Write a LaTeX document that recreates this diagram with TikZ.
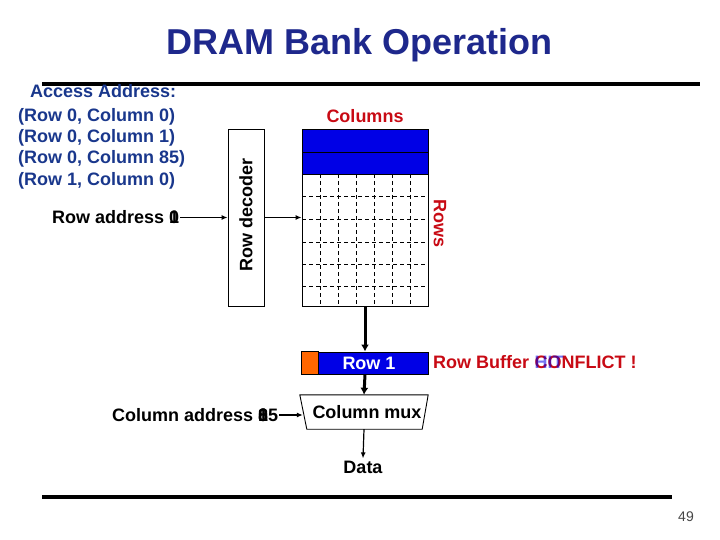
\documentclass[tikz,border=0pt]{standalone}
\usepackage{fontspec}
\setmainfont{Liberation Sans}
\usetikzlibrary{arrows.meta}
\definecolor{titleblue}{RGB}{30,40,140}
\definecolor{addrblue}{RGB}{25,55,140}
\definecolor{dred}{RGB}{200,10,20}
\definecolor{cellblue}{RGB}{0,0,230}
\definecolor{bufor}{RGB}{255,102,0}
\definecolor{pgnum}{RGB}{70,70,70}
\begin{document}
\begin{tikzpicture}[x=1pt,y=-1pt,
  txt/.style={font=\fontsize{18}{21}\selectfont\bfseries, inner sep=0},
  addr/.style={txt, text=addrblue, anchor=base west},
  arr/.style={-{Latex[length=6pt,width=5pt]}, line width=1.2pt},
  fatarr/.style={-{Latex[length=7pt,width=8pt]}, line width=3pt},
  box/.style={draw, line width=0.9pt, inner sep=0},
  gridline/.style={dash pattern=on 4pt off 3pt, line width=0.8pt},
  rulebar/.style={line width=4.5pt}]
\useasboundingbox (0,0) rectangle (720,540);

% title and rules
\node[font=\fontsize{36}{40}\selectfont\bfseries, text=titleblue, inner sep=0, anchor=base] (title) at (360,55) {DRAM Bank Operation};
\draw[rulebar] (42,84) -- (700,84);
\draw[rulebar] (42,497) -- (672,497);
\node[font=\fontsize{14}{16}\selectfont, text=pgnum, inner sep=0, anchor=base] (pg) at (686,521) {49};

% access address list
\node[addr] (a0) at (30,98) {Access Address:};
\node[addr] (a1) at (18,121.5) {(Row 0, Column 0)};
\node[addr] (a2) at (18,143) {(Row 0, Column 1)};
\node[addr] (a3) at (18,164) {(Row 0, Column 85)};
\node[addr] (a4) at (18,186) {(Row 1, Column 0)};

% row decoder
\node[box, minimum width=36pt, minimum height=177pt] (dec) at (246,217.5) {};
\node[txt, rotate=90] (declabel) at (246,215) {Row decoder};

% array
\draw[line width=0.9pt, fill=cellblue] (302,129) rectangle (428,152);
\draw[line width=0.9pt, fill=cellblue] (302,152) rectangle (428,174);
\foreach \x in {320,338,356,374,392,410} \draw[gridline] (\x,174) -- (\x,306);
\foreach \y in {196.5,219.5,242,264.5,286.5} \draw[gridline] (302,\y) -- (428,\y);
\node[box, minimum width=126pt, minimum height=177pt] (grid) at (365,217.5) {};
\node[txt, text=dred, anchor=base] (cols) at (365,123) {Columns};
\node[txt, text=dred, rotate=-90] (rows) at (440,224) {Rows};

% row address
\node[txt, anchor=base west] (rowaddr) at (52,223) {Row address \rlap{1}0};
\draw[arr] ([xshift=1pt]rowaddr.east |- dec.west) -- (dec.west);
\draw[arr] (dec.east) -- (grid.west |- dec.east);

% row buffer
\node[box, fill=cellblue, minimum width=126pt, minimum height=22pt] (buf) at (365,363) {};
\draw[line width=0.9pt, fill=bufor] (buf.north west) rectangle ([xshift=17pt]buf.south west);
\node[txt, text=white, anchor=base] (buflabel) at (369,369.5) {Row 1};
\draw[fatarr] (grid.south) -- (buf.north);

\node[txt, text=dred, anchor=base west] (rb) at (433,368) {Row Buffer};
\node[txt, text=dred, anchor=base west] (conf) at ([xshift=5pt]rb.base east) {CONFLICT !};
\node[txt, text=cellblue, text opacity=0.55, anchor=base west] (hit) at ([xshift=5pt]rb.base east) {HIT};

% column mux
\node[inner sep=0, minimum width=128pt, minimum height=34pt] (mux) at (364,412) {};
\draw[line width=0.9pt] (mux.north west) -- (mux.north east) -- ([xshift=-6pt]mux.south east) -- ([xshift=7pt]mux.south west) -- cycle;
\node[txt, anchor=base] (muxlabel) at (367,418.5) {Column mux};
\draw[fatarr] (buf.south) -- (mux.north);

\node[txt, anchor=base west] (coladdr) at (112,421) {Column address \rlap{0}\rlap{1}85};
\draw[arr] ([xshift=1pt,yshift=-3pt]coladdr.east |- mux.west) -- ([xshift=3pt,yshift=-3pt]mux.west);

\node[txt, anchor=base] (data) at (363,473) {Data};
\draw[arr] (mux.south) -- ([yshift=2pt]data.north);
\end{tikzpicture}
\end{document}
